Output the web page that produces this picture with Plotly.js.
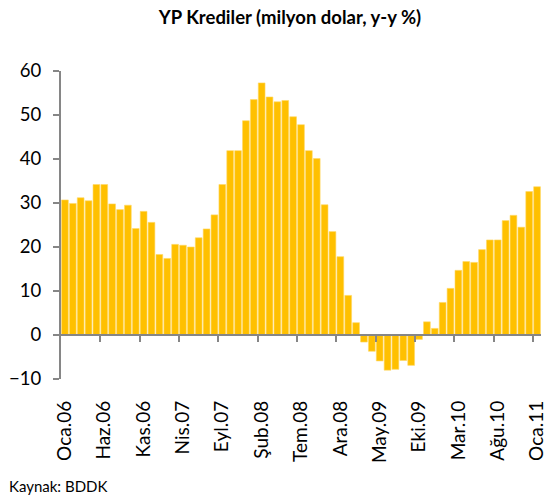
<!DOCTYPE html>
<html><head><meta charset="utf-8">
<script src="https://cdn.plot.ly/plotly-3.0.1.min.js"></script>
<style>html,body{margin:0;padding:0;background:#fff}#c{width:555px;height:499px}</style>
</head><body><div id="c"></div>
<script>
const months = ["Oca.06","Şub.06","Mar.06","Nis.06","May.06","Haz.06","Tem.06","Ağu.06","Eyl.06","Eki.06","Kas.06","Ara.06",
"Oca.07","Şub.07","Mar.07","Nis.07","May.07","Haz.07","Tem.07","Ağu.07","Eyl.07","Eki.07","Kas.07","Ara.07",
"Oca.08","Şub.08","Mar.08","Nis.08","May.08","Haz.08","Tem.08","Ağu.08","Eyl.08","Eki.08","Kas.08","Ara.08",
"Oca.09","Şub.09","Mar.09","Nis.09","May.09","Haz.09","Tem.09","Ağu.09","Eyl.09","Eki.09","Kas.09","Ara.09",
"Oca.10","Şub.10","Mar.10","Nis.10","May.10","Haz.10","Tem.10","Ağu.10","Eyl.10","Eki.10","Kas.10","Ara.10",
"Oca.11"];
const growth = [30.7,29.9,31.2,30.5,34.2,34.2,29.8,28.5,29.5,24.2,28.1,25.6,
18.3,17.4,20.6,20.4,20.0,22.1,24.1,27.3,34.2,41.9,41.9,48.7,
53.5,57.3,54.1,53.0,53.3,49.6,47.8,41.9,40.1,29.6,23.5,17.8,
9.0,2.8,-1.6,-3.7,-5.9,-8.0,-7.8,-5.8,-6.9,-1.0,3.0,1.5,
7.4,10.6,14.7,16.7,16.5,19.4,21.6,21.6,26.0,27.2,24.5,32.6,
33.7];
const tickLabels = ["Oca.06","Haz.06","Kas.06","Nis.07","Eyl.07","Şub.08","Tem.08","Ara.08","May.09","Eki.09","Mar.10","Ağu.10","Oca.11"];
const boundaryTicks = [4.5,9.5,14.5,19.5,24.5,29.5,34.5,39.5,44.5,49.5,54.5,59.5];

const F = "Lato, 'Open Sans', sans-serif";
const grey = "#868686";
const data = [
  {type:"bar", x:months, y:growth, marker:{color:"#FFC000", line:{color:"#FFD966", width:0.6}}, hoverinfo:"x+y"},
  {type:"scatter", x:[0], y:[0], xaxis:"x2", yaxis:"y", mode:"markers", marker:{opacity:0}, hoverinfo:"skip", showlegend:false}
];
const layout = {
  width:555, height:499,
  margin:{l:61, r:14, t:71, b:120},
  paper_bgcolor:"#fff", plot_bgcolor:"#fff",
  showlegend:false, bargap:0.14,
  font:{family:F, color:"#000"},
  title:{text:"<b>YP Krediler (milyon dolar, y-y %)</b>", font:{family:F, size:18.5, color:"#000"}, x:0.5225, xanchor:"center", y:0.965, yanchor:"middle"},
  xaxis:{type:"category", range:[-0.5,60.5], tickmode:"array", tickvals:tickLabels, ticktext:tickLabels, tickangle:-90,
         ticks:"", showline:false, showgrid:false, zeroline:false, tickfont:{family:F, size:19, color:"#000"}, ticklabelstandoff:17},
  xaxis2:{overlaying:"x", anchor:"free", position:1/7, range:[-0.5,60.5], tickmode:"array", tickvals:boundaryTicks,
          ticks:"outside", ticklen:6, tickwidth:2, tickcolor:grey, showline:true, linecolor:grey, linewidth:2,
          showticklabels:false, showgrid:false, zeroline:false},
  yaxis:{range:[-10,60], dtick:10, tick0:0, showline:true, linecolor:grey, linewidth:2, ticks:"outside", ticklen:6, tickwidth:2,
         tickcolor:grey, showgrid:false, zeroline:false, tickfont:{family:F, size:18.5, color:"#000"}, ticklabelstandoff:8},
  annotations:[{text:"Kaynak: BDDK", xref:"paper", yref:"paper", x:-54/480, y:-107/308, xanchor:"left", yanchor:"middle",
                showarrow:false, font:{family:F, size:15, color:"#000"}}]
};
Plotly.newPlot("c", data, layout, {staticPlot:true});
</script></body></html>
